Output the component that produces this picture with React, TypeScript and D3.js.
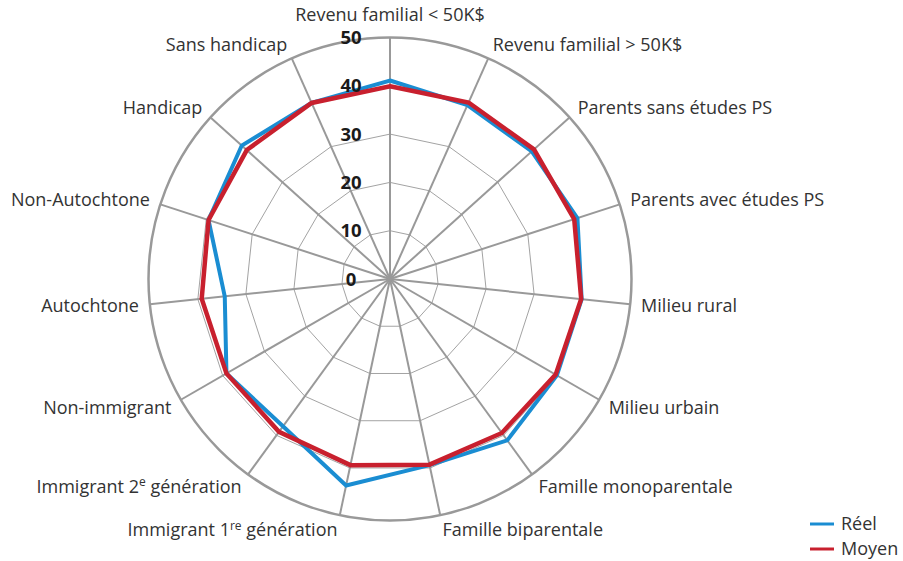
import React from 'react';
import * as d3 from 'd3';

const categories = [
  'Revenu familial < 50K$',
  'Revenu familial > 50K$',
  'Parents sans études PS',
  'Parents avec études PS',
  'Milieu rural',
  'Milieu urbain',
  'Famille monoparentale',
  'Famille biparentale',
  'Immigrant 1^{re} génération',
  'Immigrant 2^{e} génération',
  'Non-immigrant',
  'Autochtone',
  'Non-Autochtone',
  'Handicap',
  'Sans handicap',
];
const reel = [41.1, 39.4, 39.5, 40.8, 39.9, 39.9, 41.3, 39.4, 43.7, 37.7, 39.1, 34.4, 39.5, 41.3, 39.9];
const moyen = [39.9, 40.0, 40.1, 40.1, 39.8, 39.6, 39.4, 39.3, 39.4, 39.1, 39.1, 39.2, 39.5, 39.9, 39.9];
const tickValues = [0, 10, 20, 30, 40, 50];
const seriesNames = ['Réel', 'Moyen'];
const seriesColors = ['#1a8dd2', '#c8202e'];

function parseLabel(s: string) {
  const parts: { t: string; sup: boolean }[] = [];
  const re = /\^\{([^}]*)\}/g;
  let last = 0;
  let m: RegExpExecArray | null;
  while ((m = re.exec(s))) {
    if (m.index > last) parts.push({ t: s.slice(last, m.index), sup: false });
    parts.push({ t: m[1], sup: true });
    last = m.index + m[0].length;
  }
  if (last < s.length) parts.push({ t: s.slice(last), sup: false });
  return parts;
}

export default function App() {
  const W = 903, H = 561;
  const cx = 390, cy = 279, R = 241.5;
  const n = categories.length;
  const r = d3.scaleLinear().domain([0, 50]).range([0, R]);
  const ang = d3.scaleLinear().domain([0, n]).range([0, 2 * Math.PI]);
  const line = d3
    .lineRadial<number>()
    .angle((_, i) => ang(i))
    .radius((d) => r(d))
    .curve(d3.curveLinearClosed);
  const font = '"Open Sans", "DejaVu Sans", sans-serif';
  const pt = (i: number, rad: number) => [Math.sin(ang(i)) * rad, -Math.cos(ang(i)) * rad];

  const series = [reel, moyen];

  return (
    <svg
      width={W}
      height={H}
      style={{ position: 'absolute', left: 0, top: 0, background: '#fff' }}
      fontFamily={font}
    >
      <g transform={`translate(${cx},${cy})`}>
        {tickValues.slice(1, -1).map((t) => (
          <polygon
            key={t}
            points={categories.map((_, i) => pt(i, r(t)).join(',')).join(' ')}
            fill="none"
            stroke="#a3a3a3"
            strokeWidth={1}
          />
        ))}
        {categories.map((_, i) => {
          const [x, y] = pt(i, R);
          return <line key={i} x1={0} y1={0} x2={x} y2={y} stroke="#999" strokeWidth={2} />;
        })}
        <circle r={r(50)} fill="none" stroke="#999" strokeWidth={2.5} />
        {series.map((s, k) => (
          <path
            key={k}
            d={line(s) || ''}
            fill="none"
            stroke={seriesColors[k]}
            strokeWidth={k === 0 ? 4 : 4.5}
            strokeLinejoin="miter"
          />
        ))}
        {tickValues.map((t) => (
          <text
            key={t}
            x={-39}
            y={-r(t)}
            dy="0.36em"
            textAnchor="middle"
            fontWeight="bold"
            fontSize={18.5}
            fill="#1a1a1a"
          >
            {t}
          </text>
        ))}
        {categories.map((c, i) => {
          const a = ang(i);
          const s = Math.sin(a), co = Math.cos(a);
          const [x, y] = pt(i, R + 11);
          let anchor = 'middle';
          if (s > 0.1) anchor = 'start';
          else if (s < -0.1) anchor = 'end';
          const yc = anchor === 'middle' ? y - 11.5 * co : y - 4 * co;
          const parts = parseLabel(c);
          return (
            <text
              key={i}
              x={x}
              y={yc}
              dy="0.36em"
              textAnchor={anchor}
              fontSize={18}
              fill="#333"
            >
              {parts.map((p, j) =>
                p.sup ? (
                  <tspan key={j} fontSize={12} dy="-0.55em">
                    {p.t}
                  </tspan>
                ) : (
                  <tspan key={j} dy={j > 0 && parts[j - 1].sup ? '0.37em' : undefined}>
                    {p.t}
                  </tspan>
                )
              )}
            </text>
          );
        })}
      </g>
      <g>
        {seriesNames.map((name, k) => (
          <g key={name} transform={`translate(810,${524 + k * 25})`}>
            <line x1={0} x2={24} y1={0} y2={0} stroke={seriesColors[k]} strokeWidth={3} />
            <text x={31} y={0} dy="0.36em" fontSize={18} fill="#333">
              {name}
            </text>
          </g>
        ))}
      </g>
    </svg>
  );
}
